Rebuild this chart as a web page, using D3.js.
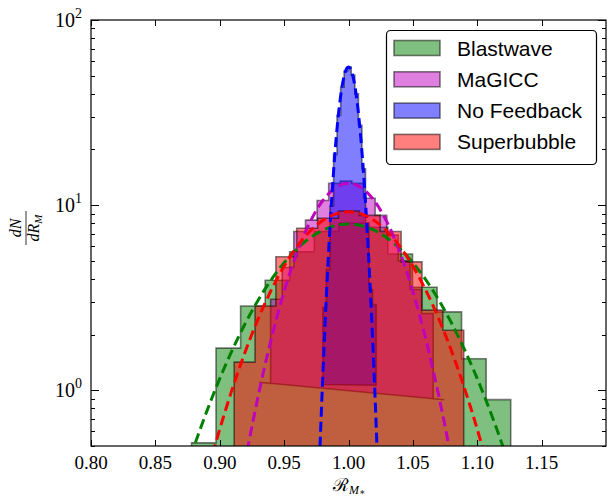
<!DOCTYPE html>
<html><head><meta charset="utf-8">
<script src="https://cdn.jsdelivr.net/npm/d3@7"></script>
<style>body{margin:0;background:#fff}</style></head>
<body>
<svg id="c" width="608" height="498"></svg>
<script>
// ---------------- data ----------------
const seriesNames = ["Blastwave", "MaGICC", "No Feedback", "Superbubble"];
const seriesColors = ["#008000", "#bf00bf", "#0000ff", "#ff0000"];

const blastwaveEdges = [0.8781,0.8971,0.9162,0.9353,0.9543,0.9734,0.9925,1.0116,1.0306,1.0497,1.0688,1.0878,1.1069,1.1260];
const blastwaveCounts = [0.52,1.69,2.85,3.93,5.6,7.2,8.0,7.6,5.45,3.6,2.65,1.48,0.89];

const magiccEdges = [0.9395,0.9485,0.9575,0.9666,0.9756,0.9846,0.9936,1.0026,1.0117,1.0207,1.0297,1.0387,1.0478,1.0568,1.0658];
const magiccCounts = [3.1,4.6,7.2,8.3,10.6,13.1,13.5,13.1,10.9,8.8,6.9,5.0,3.5,2.6];

const noFeedbackEdges = [0.9801,0.9828,0.9856,0.9884,0.9911,0.9939,0.9966,0.9994,1.0021,1.0049,1.0077,1.0104,1.0132,1.0159,1.0187,1.0215];
const noFeedbackCounts = [2.8,4.5,9.9,18.8,30.6,43.3,53,55.7,50.5,39.9,27,15.7,8.0,3.5,2.9];

const superbubbleEdges = [0.9112,0.9274,0.9436,0.9598,0.9760,0.9922,1.0084,1.0246,1.0409,1.0571,1.0733,1.0895];
const superbubbleCounts = [1.42,2.85,5.26,7.5,8.5,9.3,8.8,7.2,4.94,2.71,2.11];

// polygon bottoms as drawn (null = runs off the bottom of the log axis)
const magiccBaseX = [0.9307, 1.0744];
const magiccBaseY = [1.105, 0.888];
const noFeedbackBaseX = [0.9801, 1.0215];
const noFeedbackBaseY = [1.075, 1.065];

// gaussian fits (dashed curves)
const fitAmp = [7.9, 13.1, 55.7, 9.2];
const fitMean = [1.0, 1.0, 1.0, 1.0];
const fitSigma = [0.051, 0.0305, 0.0072, 0.043];

const xTickValues = [0.80,0.85,0.90,0.95,1.00,1.05,1.10,1.15];
const xTickLabels = ["0.80","0.85","0.90","0.95","1.00","1.05","1.10","1.15"];
const yTickValues = [1, 10, 100];
const yTickExps = ["0", "1", "2"];
const yMinorTicks = [0.5,0.6,0.7,0.8,0.9,2,3,4,5,6,7,8,9,20,30,40,50,60,70,80,90];

// ---------------- chart ----------------
const L = 91, R = 606, T = 20, B = 446;
const svg = d3.select("#c");
const x = d3.scaleLinear().domain([0.8, 1.2]).range([L, R]);
const y = d3.scaleLog().domain([0.5, 100]).range([B, T]);

svg.append("defs").append("clipPath").attr("id", "clip")
  .append("rect").attr("x", L).attr("y", T).attr("width", R - L).attr("height", B - T);

const plot = svg.append("g").attr("clip-path", "url(#clip)");

const hists = [
  {edges: blastwaveEdges, counts: blastwaveCounts, bx: null, by: null},
  {edges: magiccEdges, counts: magiccCounts, bx: magiccBaseX, by: magiccBaseY},
  {edges: noFeedbackEdges, counts: noFeedbackCounts, bx: noFeedbackBaseX, by: noFeedbackBaseY},
  {edges: superbubbleEdges, counts: superbubbleCounts, bx: null, by: null}
];

function histPath(h) {
  const e = h.edges, c = h.counts, n = c.length;
  let base;
  if (h.bx) {
    const x0 = x(h.bx[0]), x1 = x(h.bx[1]), y0 = y(h.by[0]), y1 = y(h.by[1]);
    base = px => y0 + (y1 - y0) * (px - x0) / (x1 - x0);
  } else {
    base = () => B + 200;
  }
  const pts = [];
  pts.push([x(e[0]), base(x(e[0]))]);
  for (let i = 0; i < n; i++) {
    pts.push([x(e[i]), y(c[i])]);
    pts.push([x(e[i + 1]), y(c[i])]);
  }
  pts.push([x(e[n]), base(x(e[n]))]);
  if (h.bx) {
    pts.push([x(h.bx[1]), y(h.by[1])]);
    pts.push([x(h.bx[0]), y(h.by[0])]);
  }
  return d3.line()(pts) + "Z";
}

hists.forEach((h, i) => {
  plot.append("path")
    .attr("d", histPath(h))
    .attr("fill", seriesColors[i]).attr("fill-opacity", 0.5)
    .attr("stroke", "rgba(0,0,0,0.5)").attr("stroke-width", 1.6)
    .attr("stroke-linejoin", "miter");
});

// dashed gaussian fits
const xs = d3.range(0.8, 1.2001, 0.0005);
[0, 1, 2, 3].forEach(i => {
  const pts = xs.map(v => [v, fitAmp[i] * Math.exp(-((v - fitMean[i]) ** 2) / (2 * fitSigma[i] ** 2))])
    .filter(p => p[1] > 0.05);
  plot.append("path")
    .attr("d", d3.line().x(p => x(p[0])).y(p => y(p[1]))(pts))
    .attr("fill", "none").attr("stroke", seriesColors[i])
    .attr("stroke-width", 3).attr("stroke-dasharray", "10,5");
});

// frame
svg.append("rect").attr("x", L).attr("y", T).attr("width", R - L).attr("height", B - T)
  .attr("fill", "none").attr("stroke", "#000").attr("stroke-width", 1.2);

// ticks
const tk = svg.append("g").attr("stroke", "#000").attr("stroke-width", 1);
xTickValues.forEach(v => {
  const px = Math.round(x(v)) + 0.5;
  tk.append("line").attr("x1", px).attr("x2", px).attr("y1", B).attr("y2", B - 6);
  tk.append("line").attr("x1", px).attr("x2", px).attr("y1", T).attr("y2", T + 6);
});
yTickValues.forEach(v => {
  const py = Math.round(y(v)) + 0.5;
  tk.append("line").attr("x1", L).attr("x2", L + 8).attr("y1", py).attr("y2", py);
  tk.append("line").attr("x1", R).attr("x2", R - 8).attr("y1", py).attr("y2", py);
});
yMinorTicks.forEach(v => {
  const py = Math.round(y(v)) + 0.5;
  tk.append("line").attr("x1", L).attr("x2", L + 4).attr("y1", py).attr("y2", py);
  tk.append("line").attr("x1", R).attr("x2", R - 4).attr("y1", py).attr("y2", py);
});

// tick labels
const serif = "'Liberation Serif', 'DejaVu Serif', serif";
xTickValues.forEach((v, i) => {
  svg.append("text").attr("x", x(v)).attr("y", 469)
    .attr("text-anchor", "middle").attr("font-family", serif).attr("font-size", 19)
    .attr("fill", "#000").text(xTickLabels[i]);
});
yTickValues.forEach((v, i) => {
  const t = svg.append("text").attr("x", 82).attr("y", y(v) + 7)
    .attr("text-anchor", "end").attr("font-family", serif).attr("font-size", 20).attr("fill", "#000");
  t.append("tspan").text("10");
  t.append("tspan").attr("dy", -9).attr("font-size", 14).text(yTickExps[i]);
});

// x label
const xl = svg.append("text").attr("x", 349).attr("y", 491).attr("text-anchor", "middle")
  .attr("font-family", "'DejaVu Serif', serif").attr("fill", "#000");
xl.append("tspan").attr("font-size", 18).text("ℛ");
xl.append("tspan").attr("font-size", 12).attr("font-style", "italic").attr("dy", 3)
  .attr("font-family", serif).text("M");
xl.append("tspan").attr("font-size", 9).attr("dy", 1).text("∗");

// y label (fraction)
const yl = svg.append("g").attr("transform", "translate(26,228) rotate(-90)");
yl.append("text").attr("x", 0).attr("y", -5).attr("text-anchor", "middle")
  .attr("font-family", serif).attr("font-style", "italic").attr("font-size", 16).text("dN");
yl.append("line").attr("x1", -17).attr("x2", 17).attr("y1", 0).attr("y2", 0)
  .attr("stroke", "#000").attr("stroke-width", 0.8);
const den = yl.append("text").attr("x", 0).attr("y", 13).attr("text-anchor", "middle")
  .attr("font-family", serif).attr("font-style", "italic").attr("font-size", 16);
den.append("tspan").text("dR");
den.append("tspan").attr("font-size", 11).attr("dy", 3).text("M");

// legend
const lg = svg.append("g");
lg.append("rect").attr("x", 386.5).attr("y", 30.5).attr("width", 210).attr("height", 134)
  .attr("rx", 4).attr("fill", "#fff").attr("stroke", "#000").attr("stroke-width", 1.2);
seriesNames.forEach((s, i) => {
  const cy = 48 + 31.3 * i;
  lg.append("rect").attr("x", 394).attr("y", cy - 7.5).attr("width", 46).attr("height", 15)
    .attr("fill", seriesColors[i]).attr("fill-opacity", 0.5)
    .attr("stroke", "rgba(0,0,0,0.5)").attr("stroke-width", 1.6);
  lg.append("text").attr("x", 457).attr("y", cy + 7.5)
    .attr("font-family", "'Liberation Sans', Arial, sans-serif").attr("font-size", 21)
    .attr("fill", "#000").text(s);
});
</script>
</body></html>
